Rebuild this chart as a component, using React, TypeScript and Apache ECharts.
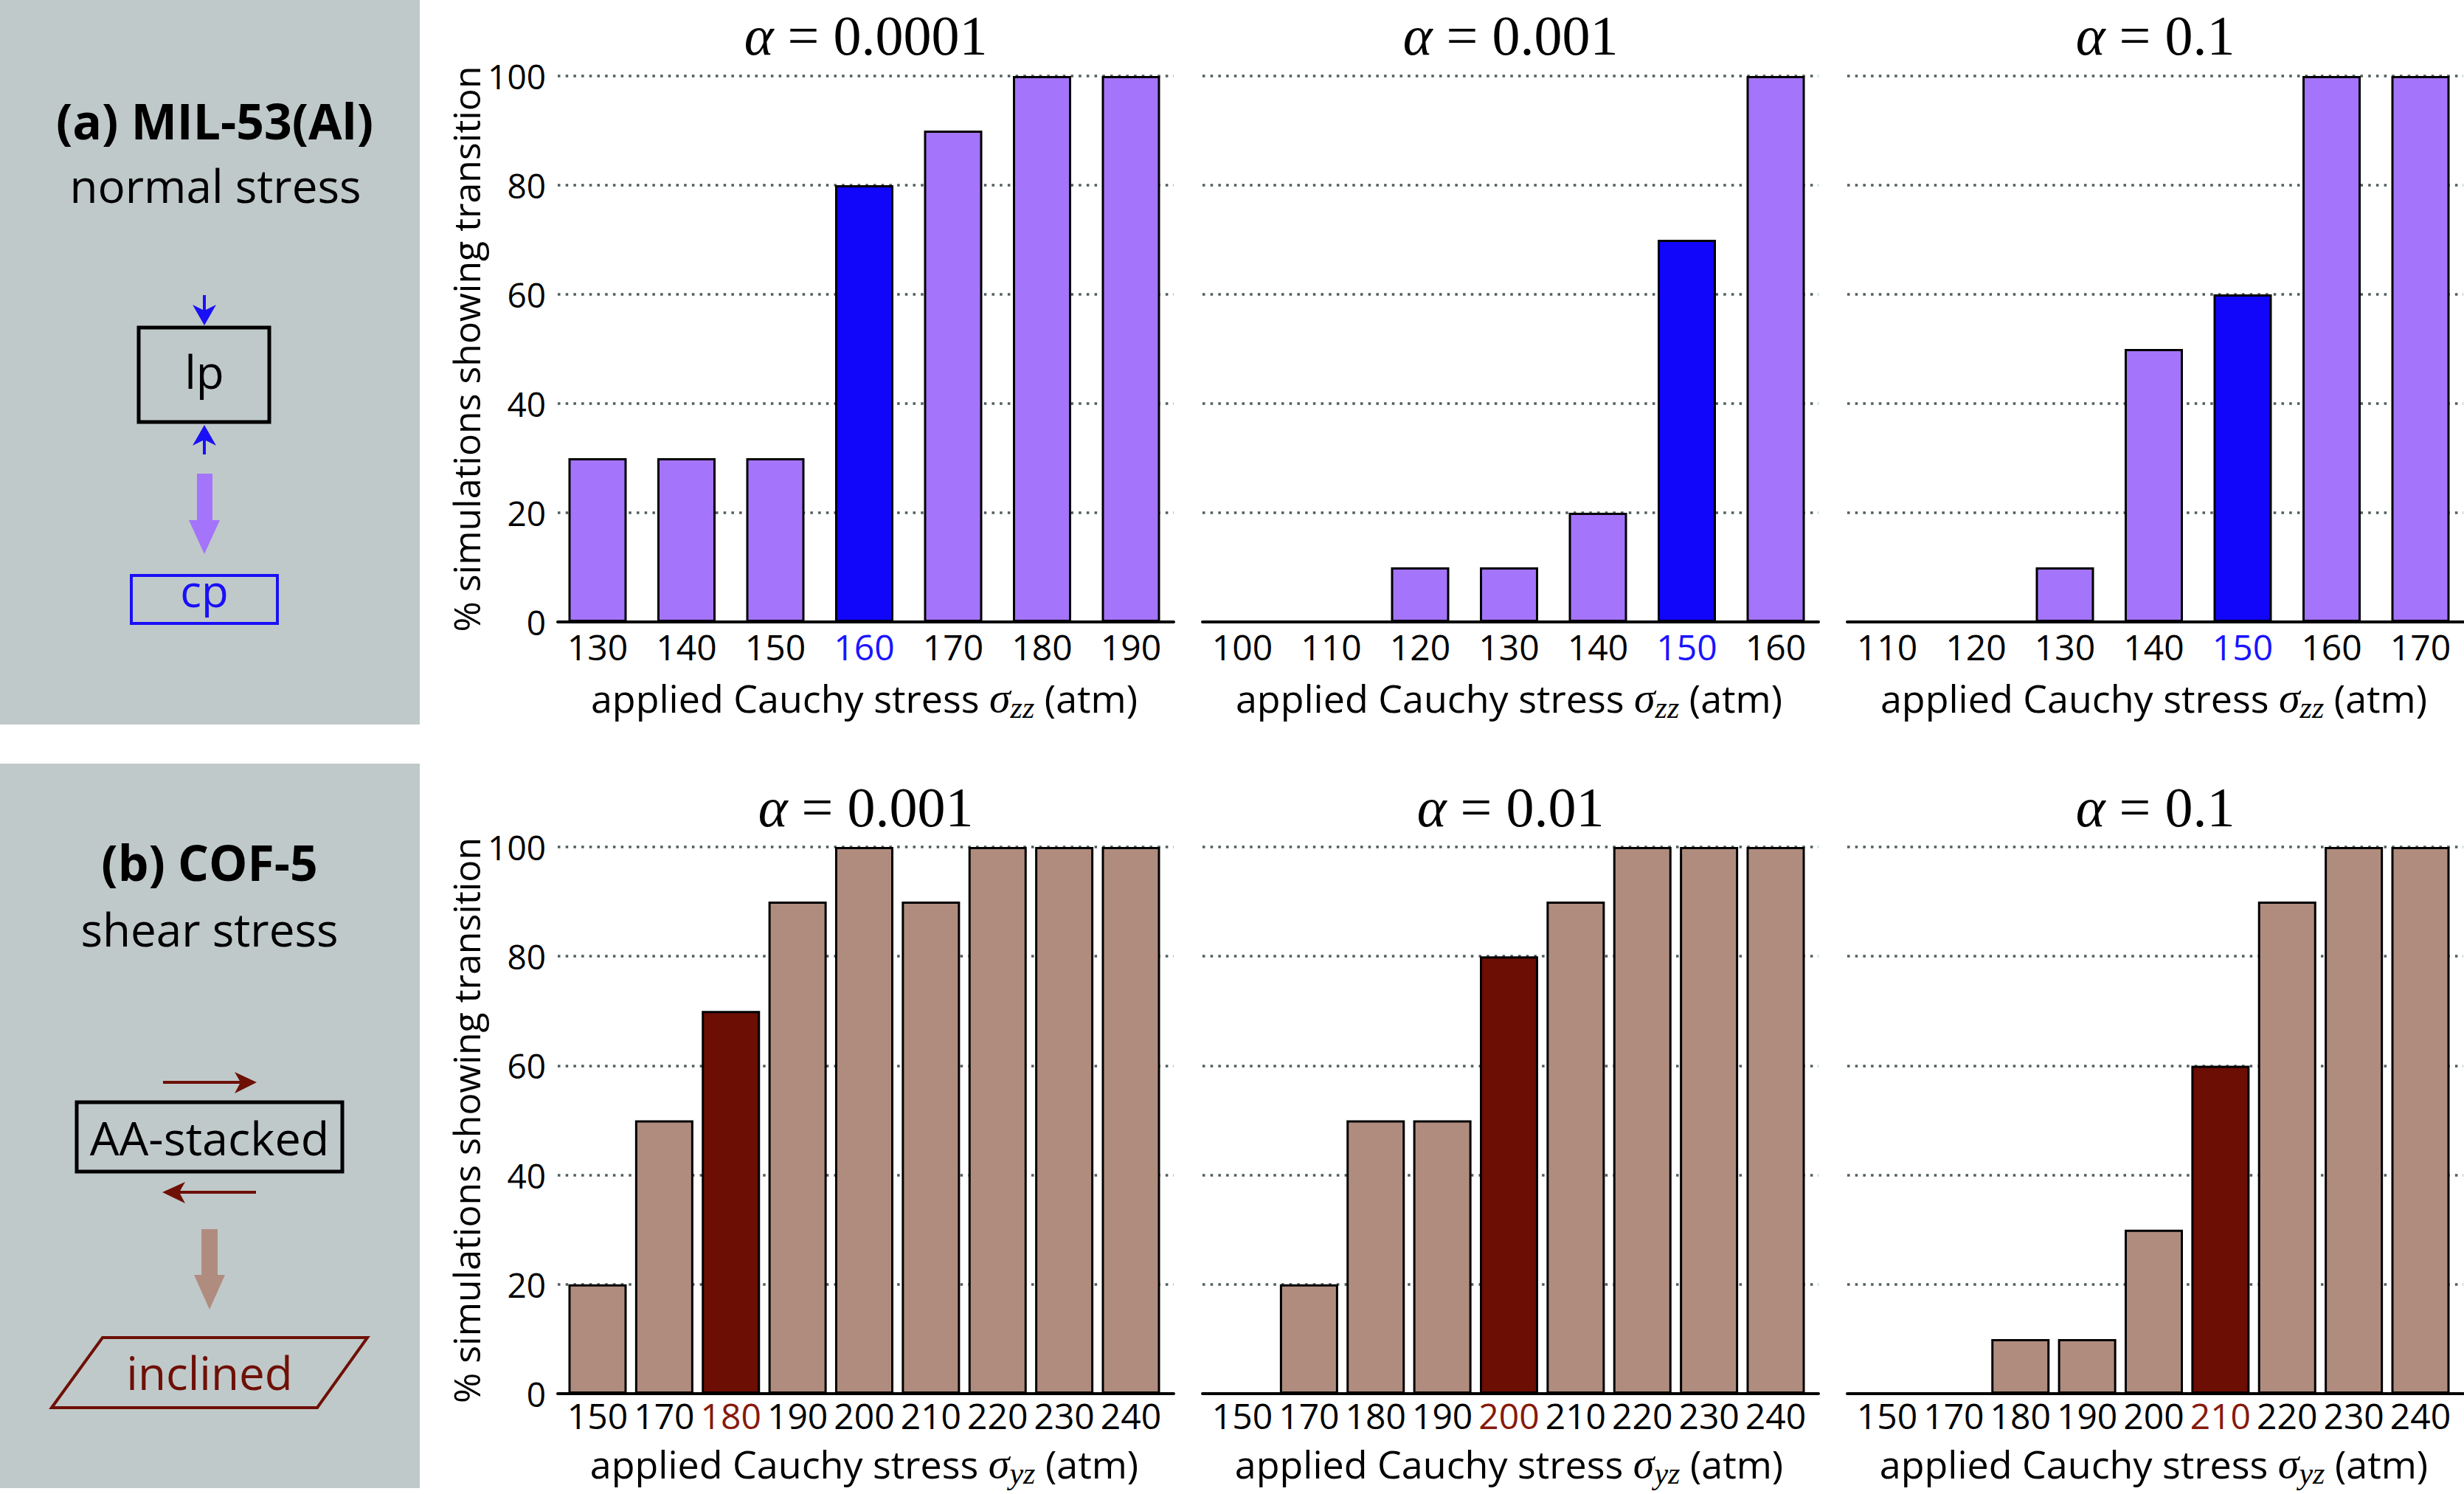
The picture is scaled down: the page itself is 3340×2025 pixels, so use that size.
import React, { useEffect, useRef } from "react";
import * as echarts from "echarts";

// MIL-53(Al) under normal stress sigma_zz (atm), % of simulations with lp -> cp transition
const milStressA = ["130", "140", "150", "160", "170", "180", "190"];
const milPctA = [30, 30, 30, 80, 90, 100, 100];
const milStressB = ["100", "110", "120", "130", "140", "150", "160"];
const milPctB = [0, 0, 10, 10, 20, 70, 100];
const milStressC = ["110", "120", "130", "140", "150", "160", "170"];
const milPctC = [0, 0, 10, 50, 60, 100, 100];
const milAlphas = ["0.0001", "0.001", "0.1"];
const milMarked = ["160", "150", "150"];

// COF-5 under shear stress sigma_yz (atm), % of simulations with AA -> inclined transition
const cofStress = ["150", "170", "180", "190", "200", "210", "220", "230", "240"];
const cofPctA = [20, 50, 70, 90, 100, 90, 100, 100, 100];
const cofPctB = [0, 20, 50, 50, 80, 90, 100, 100, 100];
const cofPctC = [0, 0, 10, 10, 30, 60, 90, 100, 100];
const cofAlphas = ["0.001", "0.01", "0.1"];
const cofMarked = ["180", "200", "210"];

// percentage axis
const pctMin = 0;
const pctMax = 100;
const pctStep = 20;

const SANS = "Open Sans";
const SERIF = "Liberation Serif";

const COLORS = {
  panel: "#c0c9ca",
  milFill: "#a474fb",
  milMark: "#1206fa",
  milLabel: "#1a14ff",
  cofFill: "#b08c7f",
  cofMark: "#6c0e03",
  cofLabel: "#861a0c",
  grid: "#4f5d5e",
};

// layout
const colLefts = [756, 1630, 2504];
const frameWidth = 835;
const rowTops = [103, 1148];
const rowHeights = [740, 741];
const labelMargins = [9, 5];
const nameGaps = [73, 65];
const firstBarOffset = 54; // from plot left edge to first bar centre
const barSpan = 723; // from first bar centre to last bar centre

type Panel = {
  row: number;
  col: number;
  alpha: string;
  stress: string[];
  pct: number[];
  marked: string;
};

const panels: Panel[] = [
  { row: 0, col: 0, alpha: milAlphas[0], stress: milStressA, pct: milPctA, marked: milMarked[0] },
  { row: 0, col: 1, alpha: milAlphas[1], stress: milStressB, pct: milPctB, marked: milMarked[1] },
  { row: 0, col: 2, alpha: milAlphas[2], stress: milStressC, pct: milPctC, marked: milMarked[2] },
  { row: 1, col: 0, alpha: cofAlphas[0], stress: cofStress, pct: cofPctA, marked: cofMarked[0] },
  { row: 1, col: 1, alpha: cofAlphas[1], stress: cofStress, pct: cofPctB, marked: cofMarked[1] },
  { row: 1, col: 2, alpha: cofAlphas[2], stress: cofStress, pct: cofPctC, marked: cofMarked[2] },
];

function buildOption() {
  const grid: any[] = [];
  const xAxis: any[] = [];
  const yAxis: any[] = [];
  const series: any[] = [];
  const graphic: any[] = [];

  panels.forEach((p) => {
    const L = colLefts[p.col];
    const T = rowTops[p.row];
    const H = rowHeights[p.row];
    const n = p.stress.length;
    const cw = barSpan / (n - 1);
    const isMil = p.row === 0;
    const fill = isMil ? COLORS.milFill : COLORS.cofFill;
    const markFill = isMil ? COLORS.milMark : COLORS.cofMark;
    const markLabel = isMil ? COLORS.milLabel : COLORS.cofLabel;
    const sub = isMil ? "zz" : "yz";

    // frame: dotted grid lines, percentage labels and base line
    grid.push({
      left: L,
      top: T,
      width: frameWidth,
      height: H,
      containLabel: false,
      outerBoundsMode: "none",
    });
    const fi = grid.length - 1;
    xAxis.push({
      gridIndex: fi,
      type: "value",
      min: 0,
      max: 1,
      axisLine: { show: true, onZero: false, lineStyle: { color: "#000", width: 4 } },
      axisTick: { show: false },
      axisLabel: { show: false },
      splitLine: { show: false },
    });
    yAxis.push({
      gridIndex: fi,
      type: "value",
      min: pctMin,
      max: pctMax,
      interval: pctStep,
      axisLine: { show: false },
      axisTick: { show: false },
      axisLabel: {
        show: p.col === 0,
        fontSize: 46,
        fontFamily: SANS,
        color: "#000",
        margin: 16,
      },
      splitLine: {
        show: true,
        lineStyle: { color: COLORS.grid, width: 3.5, type: [3.5, 7.2] },
      },
      name: p.col === 0 ? "% simulations showing transition" : "",
      nameLocation: "middle",
      nameRotate: 90,
      nameGap: 92,
      nameTextStyle: { fontSize: 50, fontFamily: SANS, color: "#000" },
    });

    // bars on a category axis
    grid.push({
      left: L + firstBarOffset - cw / 2,
      top: T,
      width: n * cw,
      height: H,
      containLabel: false,
      outerBoundsMode: "none",
    });
    const bi = grid.length - 1;
    xAxis.push({
      gridIndex: bi,
      type: "category",
      data: p.stress.map((s) =>
        s === p.marked ? { value: s, textStyle: { color: markLabel } } : s
      ),
      axisLine: { show: false },
      axisTick: { show: false },
      axisLabel: {
        interval: 0,
        fontSize: 48,
        lineHeight: 48,
        fontFamily: SANS,
        color: "#000",
        margin: labelMargins[p.row],
      },
      splitLine: { show: false },
      name: `applied Cauchy stress {s|σ}{sub|${sub}} (atm)`,
      nameLocation: "middle",
      nameGap: nameGaps[p.row],
      nameTextStyle: {
        fontSize: 52,
        fontFamily: SANS,
        color: "#000",
        rich: {
          s: { fontFamily: SERIF, fontStyle: "italic", fontSize: 58, color: "#000" },
          sub: {
            fontFamily: SERIF,
            fontStyle: "italic",
            fontSize: 42,
            lineHeight: 42,
            padding: [28, 0, 0, 0],
            color: "#000",
          },
        },
      },
    });
    yAxis.push({ gridIndex: bi, type: "value", min: pctMin, max: pctMax, show: false });

    series.push({
      type: "bar",
      xAxisIndex: xAxis.length - 1,
      yAxisIndex: yAxis.length - 1,
      barWidth: 79,
      itemStyle: { color: fill, borderColor: "#000", borderWidth: 3 },
      data: p.pct.map((v, k) =>
        p.stress[k] === p.marked ? { value: v, itemStyle: { color: markFill } } : v
      ),
    });

    // panel title
    graphic.push({
      type: "text",
      x: L + frameWidth / 2,
      y: p.row === 0 ? 48 : 1094,
      style: {
        text: `{a|α} = ${p.alpha}`,
        fontSize: 76,
        fontFamily: SERIF,
        fill: "#000",
        align: "center",
        verticalAlign: "middle",
        rich: { a: { fontStyle: "italic", fontSize: 76, fontFamily: SERIF, fill: "#000" } },
      },
    });
  });

  const blue = "#1a10f5";
  const red = "#6e1006";

  const text = (x: number, y: number, t: string, size: number, color: string, bold = false) => ({
    type: "text",
    x,
    y,
    style: {
      text: t,
      fontSize: size,
      fontFamily: SANS,
      fontWeight: bold ? "bold" : "normal",
      fill: color,
      align: "center",
      verticalAlign: "middle",
    },
  });

  // left side: MIL-53(Al) schematic
  graphic.push(
    { type: "rect", z: -10, shape: { x: 0, y: 0, width: 569, height: 982 }, style: { fill: COLORS.panel } },
    text(291, 163, "(a) MIL-53(Al)", 66, "#000", true),
    text(292, 251, "normal stress", 62, "#000"),
    { type: "line", shape: { x1: 277, y1: 400, x2: 277, y2: 428 }, style: { stroke: blue, lineWidth: 4 } },
    { type: "polygon", shape: { points: [[277, 441], [261, 413], [277, 421], [293, 413]] }, style: { fill: blue } },
    { type: "rect", shape: { x: 188, y: 444, width: 177, height: 128 }, style: { fill: "none", stroke: "#000", lineWidth: 5 } },
    text(277, 503, "lp", 62, "#000"),
    { type: "polygon", shape: { points: [[277, 576], [261, 604], [277, 596], [293, 604]] }, style: { fill: blue } },
    { type: "line", shape: { x1: 277, y1: 590, x2: 277, y2: 616 }, style: { stroke: blue, lineWidth: 4 } },
    {
      type: "polygon",
      shape: { points: [[267, 642], [288, 642], [288, 705], [298, 705], [277, 751], [256, 705], [267, 705]] },
      style: { fill: COLORS.milFill },
    },
    { type: "rect", shape: { x: 178, y: 780, width: 198, height: 65 }, style: { fill: "none", stroke: blue, lineWidth: 4 } },
    text(277, 800, "cp", 60, blue)
  );

  // left side: COF-5 schematic
  graphic.push(
    { type: "rect", z: -10, shape: { x: 0, y: 1035, width: 569, height: 982 }, style: { fill: COLORS.panel } },
    text(284, 1168, "(b) COF-5", 66, "#000", true),
    text(284, 1259, "shear stress", 62, "#000"),
    { type: "line", shape: { x1: 221, y1: 1467, x2: 330, y2: 1467 }, style: { stroke: red, lineWidth: 4 } },
    { type: "polygon", shape: { points: [[348, 1467], [318, 1453], [326, 1467], [318, 1482]] }, style: { fill: red } },
    { type: "rect", shape: { x: 104, y: 1494, width: 360, height: 94 }, style: { fill: "none", stroke: "#000", lineWidth: 5 } },
    text(284, 1541, "AA-stacked", 63, "#000"),
    { type: "line", shape: { x1: 238, y1: 1616, x2: 347, y2: 1616 }, style: { stroke: red, lineWidth: 4 } },
    { type: "polygon", shape: { points: [[220, 1616], [251, 1602], [243, 1616], [251, 1631]] }, style: { fill: red } },
    {
      type: "polygon",
      shape: { points: [[273, 1666], [295, 1666], [295, 1728], [305, 1728], [284, 1775], [263, 1728], [273, 1728]] },
      style: { fill: COLORS.cofFill },
    },
    {
      type: "polygon",
      shape: { points: [[70, 1908], [139, 1813], [498, 1813], [430, 1908]] },
      style: { fill: "none", stroke: red, lineWidth: 4 },
    },
    text(284, 1860, "inclined", 62, red)
  );

  return {
    animation: false,
    backgroundColor: "#fff",
    grid,
    xAxis,
    yAxis,
    series,
    graphic,
  };
}

export default function App() {
  const ref = useRef<HTMLDivElement>(null);
  useEffect(() => {
    if (!ref.current) return;
    const chart = echarts.init(ref.current, null, { renderer: "svg", width: 3340, height: 2025 });
    chart.setOption(buildOption() as any);
    return () => chart.dispose();
  }, []);
  return (
    <div
      ref={ref}
      style={{ position: "fixed", left: 0, top: 0, width: 3340, height: 2025, background: "#fff" }}
    />
  );
}
